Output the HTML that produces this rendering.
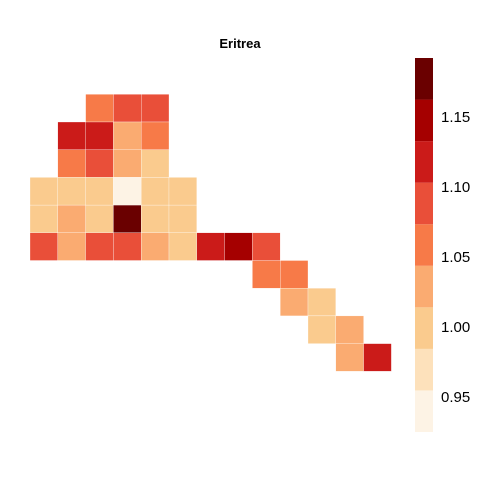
<!DOCTYPE html>
<html><head><meta charset="utf-8"><style>
body{margin:0;background:#fff;font-family:"Liberation Sans",Arial,sans-serif}
</style></head><body>
<svg id="chart" width="480" height="480">
<text x="240" y="48" text-anchor="middle" font-size="13" font-weight="bold">Eritrea</text>
<g id="cells"></g>
<g id="legend"></g>
</svg>
<script>
const rows=[0,0,0,1,1,1,1,2,2,2,2,3,3,3,3,3,3,4,4,4,4,4,4,5,5,5,5,5,5,5,5,5,6,6,7,7,8,8,9,9];
const cols=[2,3,4,1,2,3,4,1,2,3,4,0,1,2,3,4,5,0,1,2,3,4,5,0,1,2,3,4,5,6,7,8,8,9,9,10,10,11,11,12];
const values=[1.06,1.09,1.09,1.12,1.12,1.03,1.06,1.06,1.09,1.03,1.00,1.00,1.00,1.00,0.94,1.00,1.00,1.00,1.03,1.00,1.18,1.00,1.00,1.09,1.03,1.09,1.09,1.03,1.00,1.12,1.15,1.09,1.06,1.06,1.03,1.00,1.00,1.03,1.03,1.12];
const legendTicks=[0.95,1.00,1.05,1.10,1.15];
const colors=["#fdf3e5","#fde1bb","#facb8e","#faab71","#f77a48","#e94f39","#cb1b19","#a50000","#6a0000"];
const vmin=0.925,vmax=1.192,nb=9;
const ns="http://www.w3.org/2000/svg";
const cx=c=>30+c*27.8, cy=r=>94.3+r*27.7;
const bin=v=>Math.max(0,Math.min(nb-1,Math.floor((v-vmin)/((vmax-vmin)/nb))));
const g=document.getElementById('cells');
values.forEach((v,i)=>{
 const el=document.createElementNS(ns,'rect');
 el.setAttribute('x',cx(cols[i]));el.setAttribute('y',cy(rows[i]));
 el.setAttribute('width',27.8);el.setAttribute('height',27.7);
 el.setAttribute('fill',colors[bin(v)]);el.setAttribute('stroke','#fff');el.setAttribute('stroke-width','0.3');
 
 
 g.appendChild(el);
});
const lg=document.getElementById('legend');
const ly=v=>432-(v-vmin)/(vmax-vmin)*(432-58);
colors.forEach((c,i)=>{
 const v0=vmin+i*(vmax-vmin)/nb,v1=vmin+(i+1)*(vmax-vmin)/nb;
 const el=document.createElementNS(ns,'rect');
 el.setAttribute('x',415);el.setAttribute('y',ly(v1));el.setAttribute('width',18);el.setAttribute('height',ly(v0)-ly(v1));
 el.setAttribute('fill',c);
 
 
 lg.appendChild(el);
});
legendTicks.forEach(t=>{
 const el=document.createElementNS(ns,'text');
 el.setAttribute('x',441);el.setAttribute('y',ly(t)+5);el.setAttribute('font-size','15');
 el.textContent=t.toFixed(2);
 
 
 lg.appendChild(el);
});
</script>
</body></html>
